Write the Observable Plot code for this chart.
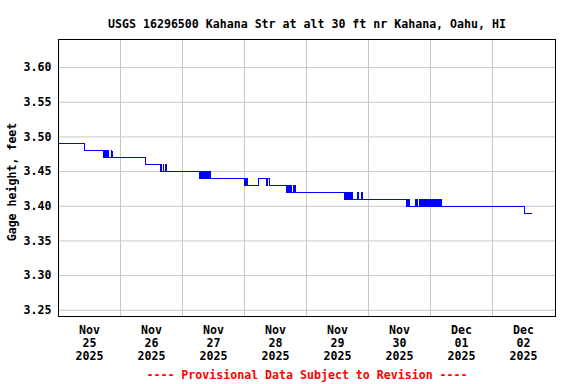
<!DOCTYPE html>
<html><head><meta charset="utf-8">
<script src="https://cdn.jsdelivr.net/npm/d3@7"></script>
<script src="https://cdn.jsdelivr.net/npm/@observablehq/plot@0.6"></script>
<style>html,body{margin:0;padding:0;background:#fff}</style>
</head><body><div id="chart"></div>
<script>
const title = "USGS 16296500 Kahana Str at alt 30 ft nr Kahana, Oahu, HI";
const yLabel = "Gage height, feet";
const footer = "---- Provisional Data Subject to Revision ----";
const dayTicks = ["2025-11-25T12:00","2025-11-26T12:00","2025-11-27T12:00","2025-11-28T12:00","2025-11-29T12:00","2025-11-30T12:00","2025-12-01T12:00","2025-12-02T12:00"];
const dayBounds = ["2025-11-26T00:00","2025-11-27T00:00","2025-11-28T00:00","2025-11-29T00:00","2025-11-30T00:00","2025-12-01T00:00","2025-12-02T00:00"];
const yTicks = [3.25, 3.30, 3.35, 3.40, 3.45, 3.50, 3.55, 3.60];
const xDomain = ["2025-11-25T00:00", "2025-12-03T00:23"];
const yDomain = [3.241, 3.6405];

const times = [
"2025-11-25T00:00","2025-11-25T10:15",
"2025-11-25T17:30","2025-11-25T17:45","2025-11-25T18:00","2025-11-25T18:15","2025-11-25T18:30","2025-11-25T18:45","2025-11-25T19:00",
"2025-11-25T19:15","2025-11-25T19:30","2025-11-25T20:30","2025-11-25T20:45",
"2025-11-26T09:45",
"2025-11-26T15:30","2025-11-26T15:45","2025-11-26T16:00","2025-11-26T16:30","2025-11-26T16:45","2025-11-26T17:30","2025-11-26T17:45",
"2025-11-27T06:30","2025-11-27T06:45","2025-11-27T07:00","2025-11-27T07:15","2025-11-27T07:30","2025-11-27T07:45","2025-11-27T08:00","2025-11-27T08:15",
"2025-11-27T08:30","2025-11-27T08:45","2025-11-27T09:00","2025-11-27T09:15","2025-11-27T09:30","2025-11-27T09:45","2025-11-27T10:00","2025-11-27T10:15",
"2025-11-27T10:30","2025-11-27T10:45","2025-11-27T11:00",
"2025-11-28T00:00","2025-11-28T00:15","2025-11-28T00:30","2025-11-28T00:45","2025-11-28T01:00",
"2025-11-28T05:30","2025-11-28T08:30","2025-11-28T08:45","2025-11-28T09:30",
"2025-11-28T16:15","2025-11-28T16:30","2025-11-28T16:45","2025-11-28T17:00","2025-11-28T17:15","2025-11-28T17:30","2025-11-28T17:45","2025-11-28T18:00",
"2025-11-28T18:15","2025-11-28T19:00","2025-11-28T19:15","2025-11-28T19:30","2025-11-28T19:45",
"2025-11-29T14:45","2025-11-29T15:00","2025-11-29T15:15","2025-11-29T15:30","2025-11-29T15:45","2025-11-29T16:00","2025-11-29T16:15","2025-11-29T16:30",
"2025-11-29T16:45","2025-11-29T17:00","2025-11-29T17:15","2025-11-29T17:30","2025-11-29T17:45",
"2025-11-29T19:45","2025-11-29T20:00","2025-11-29T21:15","2025-11-29T21:30",
"2025-11-30T14:45","2025-11-30T15:00","2025-11-30T15:15","2025-11-30T15:30","2025-11-30T15:45",
"2025-11-30T18:15","2025-11-30T18:30","2025-11-30T18:45","2025-11-30T19:00","2025-11-30T19:45","2025-11-30T20:00","2025-11-30T20:15","2025-11-30T20:30",
"2025-11-30T21:00","2025-11-30T21:15","2025-11-30T21:30","2025-11-30T21:45","2025-11-30T22:00","2025-11-30T22:15","2025-11-30T22:30","2025-11-30T22:45",
"2025-11-30T23:00","2025-11-30T23:15","2025-11-30T23:30","2025-11-30T23:45",
"2025-12-01T00:00","2025-12-01T00:15","2025-12-01T00:30","2025-12-01T00:45","2025-12-01T01:00","2025-12-01T01:15","2025-12-01T01:30","2025-12-01T01:45",
"2025-12-01T02:00","2025-12-01T02:15","2025-12-01T02:30","2025-12-01T02:45","2025-12-01T03:00","2025-12-01T03:15","2025-12-01T03:30","2025-12-01T03:45",
"2025-12-01T04:00","2025-12-01T04:15",
"2025-12-02T12:30","2025-12-02T15:00"
];
const gage = [
3.49,3.48,
3.47,3.48,3.47,3.48,3.47,3.48,3.47,
3.48,3.47,3.48,3.47,
3.46,
3.45,3.46,3.45,3.46,3.45,3.46,3.45,
3.44,3.45,3.44,3.45,3.44,3.45,3.44,3.45,
3.44,3.45,3.44,3.45,3.44,3.45,3.44,3.45,
3.44,3.45,3.44,
3.43,3.44,3.43,3.44,3.43,
3.44,3.43,3.44,3.43,
3.42,3.43,3.42,3.43,3.42,3.43,3.42,3.43,
3.42,3.43,3.42,3.43,3.42,
3.41,3.42,3.41,3.42,3.41,3.42,3.41,3.42,
3.41,3.42,3.41,3.42,3.41,
3.42,3.41,3.42,3.41,
3.40,3.41,3.40,3.41,3.40,
3.41,3.40,3.41,3.40,3.41,3.40,3.41,3.40,
3.41,3.40,3.41,3.40,3.41,3.40,3.41,3.40,
3.41,3.40,3.41,3.40,
3.41,3.40,3.41,3.40,3.41,3.40,3.41,3.40,
3.41,3.40,3.41,3.40,3.41,3.40,3.41,3.40,
3.41,3.40,
3.39,3.39
];

const parse = s => new Date(s + ":00Z");
const data = times.map((t, i) => ({date: parse(t), value: gage[i]}));
const font = "'DejaVu Sans Mono', 'Liberation Mono', monospace";

const chart = Plot.plot({
  width: 576,
  height: 384,
  marginLeft: 58,
  marginRight: 21,
  marginTop: 39,
  marginBottom: 68,
  style: {fontFamily: font, fontSize: "11.6px", fontWeight: "bold", background: "#fff", color: "#000"},
  x: {type: "utc", domain: xDomain.map(parse)},
  y: {domain: yDomain},
  marks: [
    Plot.gridY(yTicks, {stroke: "#c8c8c8", strokeOpacity: 1}),
    Plot.gridX(dayBounds.map(parse), {stroke: "#c8c8c8", strokeOpacity: 1}),
    Plot.axisY(yTicks, {tickSize: 0, tickPadding: 7, tickFormat: d => d.toFixed(2), label: null}),
    Plot.axisX(dayTicks.map(parse), {tickSize: 0, tickPadding: 8, tickFormat: d3.utcFormat("%b\n%d\n%Y"), label: null, lineHeight: 1.13}),
    Plot.line(data, {x: "date", y: "value", curve: "step-after", stroke: "#0000ff", strokeWidth: 1, shapeRendering: "crispEdges"}),
    Plot.frame({stroke: "#000"}),
    Plot.text([title], {text: d => d, frameAnchor: "top", dy: -20, fill: "#000"}),
    Plot.text([yLabel], {text: d => d, frameAnchor: "left", textAnchor: "middle", dx: -46, dy: 4, rotate: -90, fill: "#000"}),
    Plot.text([footer], {text: d => d, frameAnchor: "bottom", dy: 62, fill: "#ff0000"})
  ]
});
document.getElementById("chart").appendChild(chart);
</script>
</body></html>
